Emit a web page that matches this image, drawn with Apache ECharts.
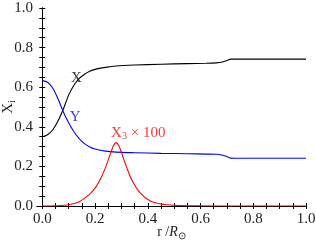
<!DOCTYPE html>
<html><head><meta charset="utf-8">
<script src="https://cdn.jsdelivr.net/npm/echarts@6/dist/echarts.min.js"></script>
<style>html,body{margin:0;padding:0;background:#fff}#c{width:316px;height:245px}</style>
</head><body><div id="c"></div>
<script>
// radius r/R_sun
const rX = [0,0.02,0.04,0.06,0.08,0.10,0.12,0.14,0.16,0.18,0.20,0.24,0.28,0.35,0.45,0.55,0.62,0.66,0.68,0.70,0.715,0.75,0.85,1.0];
const xVals = [0.35,0.36,0.385,0.43,0.49,0.56,0.61,0.645,0.665,0.68,0.69,0.70,0.707,0.712,0.716,0.719,0.721,0.723,0.726,0.735,0.742,0.742,0.742,0.742];
const rY = [0,0.02,0.04,0.06,0.08,0.10,0.12,0.14,0.16,0.18,0.20,0.24,0.28,0.35,0.45,0.55,0.62,0.66,0.68,0.70,0.715,0.75,0.85,1.0];
const yVals = [0.633,0.625,0.595,0.54,0.475,0.42,0.375,0.34,0.315,0.298,0.288,0.277,0.272,0.269,0.266,0.264,0.262,0.261,0.258,0.25,0.242,0.241,0.241,0.241];
const rX3 = [0,0.05,0.10,0.14,0.18,0.20,0.22,0.24,0.26,0.27,0.28,0.29,0.30,0.32,0.34,0.37,0.41,0.45,0.50,0.60,0.70,0.85,1.0];
const x3Vals = [0,0.001,0.006,0.022,0.06,0.09,0.135,0.195,0.27,0.305,0.32,0.305,0.27,0.195,0.13,0.068,0.025,0.01,0.004,0.001,0,0,0];
const xTickLabels = [0,0.2,0.4,0.6,0.8,1.0];
const yTickLabels = [0,0.2,0.4,0.6,0.8,1.0];
const minorStep = [0,0.05,0.1,0.15,0.2,0.25,0.3,0.35,0.4,0.45,0.5,0.55,0.6,0.65,0.7,0.75,0.8,0.85,0.9,0.95,1.0];
// annotation anchors [r, value, text, colour]
const notes = [[0.129,0.646,'X','#000000'],[0.125,0.449,'Y','#0000ff'],[0.364,0.369,'X3','#ff0000']];

const font = '"Liberation Serif", "Times New Roman", serif';
const chart = echarts.init(document.getElementById('c'), null, {renderer:'canvas'});
const pair = (a,b)=>a.map((v,i)=>[v,b[i]]);
const axisCommon = {
  type:'value', min:-0.02, max:1.0,
  axisLine:{show:true,lineStyle:{color:'#000',width:1}},
  splitLine:{show:false},
};
const yCommon = {type:'value',min:0,max:1,
  axisLine:{show:true,lineStyle:{color:'#000',width:1}},splitLine:{show:false}};
chart.setOption({
  animation:false,
  grid:{left:37,right:10,top:8,bottom:39,containLabel:false,outerBoundsMode:'none'},
  xAxis:[
    Object.assign({},axisCommon,{position:'bottom',
      name:'r /{i|R}{s|⊙}',nameLocation:'middle',nameGap:18,nameMoveOverlap:false,
      nameTextStyle:{fontFamily:font,fontSize:14,color:'#222',verticalAlign:'top',rich:{i:{fontFamily:font,fontSize:14,fontStyle:'italic',color:'#222'},s:{fontFamily:font,fontSize:10,color:'#222',padding:[7,0,0,0]}}},
      axisTick:{show:true,inside:true,length:3,customValues:minorStep,lineStyle:{color:'#000'}},
      axisLabel:{customValues:xTickLabels,formatter:v=>v.toFixed(1),fontFamily:font,fontSize:15,color:'#222',margin:6}}),
    Object.assign({},axisCommon,{position:'top',
      axisTick:{show:true,inside:true,length:3,customValues:minorStep,lineStyle:{color:'#000'}},
      axisLabel:{show:false}})
  ],
  yAxis:[
    Object.assign({},yCommon,{position:'left',
      name:'X{s|i}',nameLocation:'middle',nameGap:20,nameMoveOverlap:false,
      nameTextStyle:{fontFamily:font,fontSize:15,color:'#222',rich:{s:{fontFamily:font,fontSize:10,color:'#222',padding:[7,0,0,0]}}},
      axisTick:{show:true,inside:true,length:3,customValues:minorStep,lineStyle:{color:'#000'}},
      axisLabel:{customValues:yTickLabels,formatter:v=>v.toFixed(1),fontFamily:font,fontSize:15,color:'#222',margin:4}}),
    Object.assign({},yCommon,{position:'right',
      axisTick:{show:true,inside:true,length:3,customValues:minorStep,lineStyle:{color:'#000'}},
      axisLabel:{show:false}})
  ],
  series:[
    {type:'line',data:pair(rX,xVals),smooth:0.3,showSymbol:false,lineStyle:{color:'#000',width:1.1},itemStyle:{color:'#000'}},
    {type:'line',data:pair(rY,yVals),smooth:0.3,showSymbol:false,lineStyle:{color:'#0000ff',width:1.1},itemStyle:{color:'#0000ff'}},
    {type:'line',data:pair(rX3,x3Vals),smooth:0.3,showSymbol:false,lineStyle:{color:'#ff0000',width:1.1},itemStyle:{color:'#ff0000'}},
    {type:'scatter',symbolSize:0,silent:true,
      data:notes.map(n=>({value:[n[0],n[1]],label:{show:true,position:'inside',color:n[3],
        formatter:n[2]==='X3'?'X{s|3} × 100':n[2],
        fontFamily:font,fontSize:15,
        rich:{s:{fontFamily:font,fontSize:10,color:n[3],padding:[7,0,0,0]}}}}))}
  ]
});
</script></body></html>
